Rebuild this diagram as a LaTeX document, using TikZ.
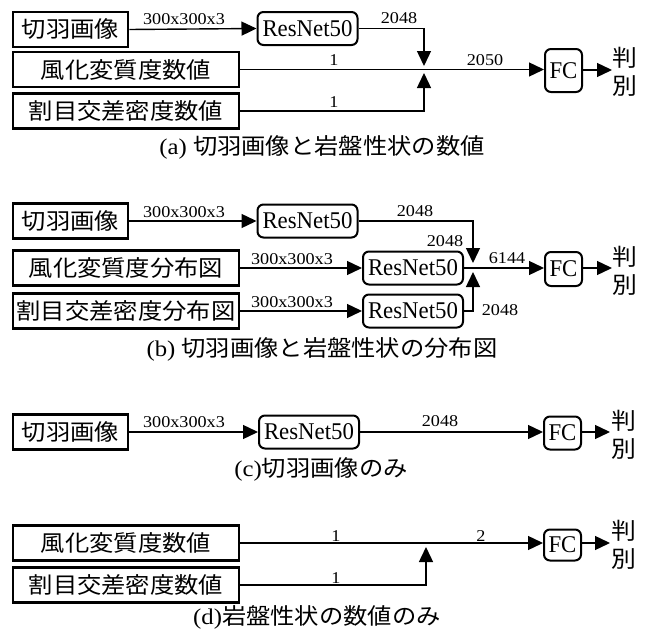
\documentclass[tikz,border=0pt]{standalone}
\usepackage{fontspec}
\setmainfont[FakeStretch=1.1]{Liberation Serif}
\newfontfamily\rnfont[FakeStretch=0.95]{Liberation Serif}
\newfontfamily\jp[FakeStretch=1.08]{Noto Sans CJK JP}
\usetikzlibrary{arrows.meta}
\tikzset{
  jbox/.style={draw, line width=2.6pt, minimum height=35pt, inner sep=0pt, font=\jp\fontsize{22.5}{24}\selectfont},
  rn/.style={draw, rounded corners=6pt, line width=2pt, minimum width=100pt, minimum height=33pt, inner sep=0pt, font=\rnfont\fontsize{24}{26}\selectfont},
  fcbox/.style={draw, rounded corners=6pt, line width=2pt, minimum width=37pt, minimum height=36pt, inner sep=0pt, font=\rnfont\fontsize{24}{26}\selectfont},
  lab/.style={inner sep=0pt, font=\fontsize{16.5}{18}\selectfont},
  conn/.style={line width=1.4pt},
  arr/.style={conn, -{Triangle[length=15pt,width=14pt]}},
  captxt/.style={inner sep=0pt, font=\fontsize{22.5}{24}\selectfont},
  hb/.style={inner sep=0pt, align=center, font=\jp\fontsize{23}{28}\selectfont},
}
\begin{document}
\begin{tikzpicture}[x=1pt,y=-1pt]
\fill[white] (0,0) rectangle (649,637);
\useasboundingbox (0,0) rectangle (649,637);

% ---------- (a) ----------
\node[jbox, minimum width=115pt] (A1) at (70.5,29.5) {切羽画像};
\node[rn] (R1) at (307.5,28.5) {ResNet50};
\node[jbox, minimum width=226pt] (B1) at (126,69.5) {風化変質度数値};
\node[jbox, minimum width=226pt] (C1) at (126,111) {割目交差密度数値};
\node[fcbox, minimum height=43pt] (F1) at (563.5,70.5) {FC};
\coordinate (J1t) at (424,66);
\coordinate (J1b) at (424,73);
\coordinate (O1) at (612,70);
\draw[arr] (A1.east) -- (R1.west);
\draw[arr] (R1.east) -| (J1t);
\draw[arr] (B1.east) -- (B1.east -| F1.west);
\draw[arr] (C1.east) -| (J1b);
\draw[arr] (F1.east |- O1) -- (O1);
\node[lab] (la1) at (184,19) {300x300x3};
\node[lab] (la2) at (399,18) {2048};
\node[lab] (la3) at (334,60) {1};
\node[lab] (la4) at (485,60) {2050};
\node[lab] (la5) at (334,102) {1};
\node[hb] (H1) at (625,72) {判\\別};
\node[captxt] (capa) at (322,147) {(a) {\jp 切羽画像と岩盤性状の数値}};

% ---------- (b) ----------
\node[jbox, minimum width=115pt] (A2) at (70.5,221) {切羽画像};
\node[rn] (R2a) at (307.5,221) {ResNet50};
\node[jbox, minimum width=226pt] (B2) at (126,268) {風化変質度分布図};
\node[rn] (R2b) at (413,268) {ResNet50};
\node[jbox, minimum width=226pt] (C2) at (126,311) {割目交差密度分布図};
\node[rn] (R2c) at (413,311) {ResNet50};
\node[fcbox, minimum height=34pt] (F2) at (563.5,269) {FC};
\coordinate (J2t) at (473,263);
\coordinate (J2b) at (473,272);
\coordinate (O2) at (612,268);
\draw[arr] (A2.east) -- (R2a.west);
\draw[arr] (R2a.east) -| (J2t);
\draw[arr] (B2.east) -- (R2b.west);
\draw[arr] (R2b.east) -- (F2.west |- R2b.east);
\draw[arr] (C2.east) -- (R2c.west);
\draw[arr] (R2c.east) -| (J2b);
\draw[arr] (F2.east |- O2) -- (O2);
\node[lab] (lb1) at (184,212) {300x300x3};
\node[lab] (lb2) at (415,211) {2048};
\node[lab] (lb3) at (292,259) {300x300x3};
\node[lab] (lb4) at (445,241) {2048};
\node[lab] (lb5) at (507,258) {6144};
\node[lab] (lb6) at (292,302) {300x300x3};
\node[lab] (lb7) at (500,310) {2048};
\node[hb] (H2) at (625,271) {判\\別};
\node[captxt] (capb) at (322,349) {(b) {\jp 切羽画像と岩盤性状の分布図}};

% ---------- (c) ----------
\node[jbox, minimum width=115pt] (A3) at (70.5,432) {切羽画像};
\node[rn] (R3) at (309,432) {ResNet50};
\node[fcbox, minimum height=33pt] (F3) at (562.5,433) {FC};
\coordinate (O3) at (610,432);
\draw[arr] (A3.east) -- (R3.west);
\draw[arr] (R3.east) -- (F3.west |- R3.east);
\draw[arr] (F3.east |- O3) -- (O3);
\node[lab] (lc1) at (184,422) {300x300x3};
\node[lab] (lc2) at (440,421) {2048};
\node[hb] (H3) at (624,435) {判\\別};
\node[captxt] (capc) at (321,469) {(c){\jp 切羽画像のみ}};

% ---------- (d) ----------
\node[jbox, minimum width=226pt] (B4) at (126,543) {風化変質度数値};
\node[jbox, minimum width=226pt] (C4) at (126,585) {割目交差密度数値};
\node[fcbox, minimum height=31pt] (F4) at (562.5,545) {FC};
\coordinate (J4b) at (426,547);
\coordinate (O4) at (610,543);
\draw[arr] (B4.east) -- (B4.east -| F4.west);
\draw[arr] (C4.east) -| (J4b);
\draw[arr] (F4.east |- O4) -- (O4);
\node[lab] (ld1) at (336,536) {1};
\node[lab] (ld2) at (481,536) {2};
\node[lab] (ld3) at (336,578) {1};
\node[hb] (H4) at (624,545) {判\\別};
\node[captxt] (capd) at (317,617) {(d){\jp 岩盤性状の数値のみ}};
\end{tikzpicture}
\end{document}
